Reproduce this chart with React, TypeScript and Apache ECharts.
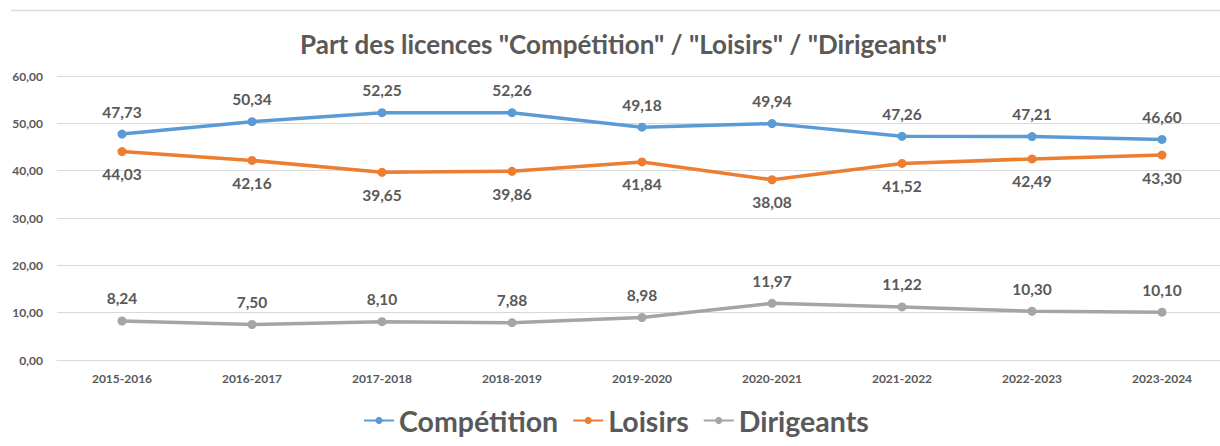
import React, { useEffect, useRef } from "react";
import * as echarts from "echarts";

const categories = ["2015-2016", "2016-2017", "2017-2018", "2018-2019", "2019-2020", "2020-2021", "2021-2022", "2022-2023", "2023-2024"];
const competition = [47.73, 50.34, 52.25, 52.26, 49.18, 49.94, 47.26, 47.21, 46.6];
const loisirs = [44.03, 42.16, 39.65, 39.86, 41.84, 38.08, 41.52, 42.49, 43.3];
const dirigeants = [8.24, 7.5, 8.1, 7.88, 8.98, 11.97, 11.22, 10.3, 10.1];
const seriesNames = ["Compétition", "Loisirs", "Dirigeants"];
const colors = ["#5B9BD5", "#ED7D31", "#A5A5A5"];

const fmt = (v: number) => v.toFixed(2).replace(".", ",");
const FONT = "Lato";
const TXT = "#595959";

export default function App() {
  const ref = useRef<HTMLDivElement>(null);
  useEffect(() => {
    const chart = echarts.init(ref.current!, undefined, { renderer: "svg" });
    const mk = (name: string, data: number[], color: string, pos: string) => ({
      name,
      type: "line",
      data,
      symbol: "circle",
      symbolSize: 9,
      lineStyle: { width: 3.5, color },
      itemStyle: { color },
      label: {
        show: true,
        position: pos,
        distance: 10,
        formatter: (p: any) => fmt(p.value),
        color: TXT,
        fontFamily: FONT,
        fontWeight: "bold",
        fontSize: 15.5,
      },
    });
    chart.setOption({
      animation: false,
      backgroundColor: "#ffffff",
      color: colors,
      title: {
        text: 'Part des licences "Compétition" / "Loisirs" / "Dirigeants"',
        left: 295,
        top: 26,
        textStyle: { color: TXT, fontFamily: FONT, fontWeight: "bold", fontSize: 26 },
      },
      legend: {
        data: seriesNames,
        left: 358,
        top: 401,
        itemWidth: 30,
        itemHeight: 9,
        itemGap: 14,
        textStyle: { color: TXT, fontFamily: FONT, fontWeight: "bold", fontSize: 28.5 },
      },
      grid: { left: 57, width: 1170, top: 76, height: 284, outerBoundsMode: "none", containLabel: false },
      xAxis: {
        type: "category",
        data: categories,
        boundaryGap: true,
        axisLine: { show: true, lineStyle: { color: "#D9D9D9", width: 1 } },
        axisTick: { show: false },
        axisLabel: { color: TXT, fontFamily: FONT, fontWeight: "bold", fontSize: 12, margin: 12 },
      },
      yAxis: {
        type: "value",
        min: 0,
        max: 60,
        interval: 10,
        axisLine: { show: false },
        axisTick: { show: false },
        axisLabel: { color: TXT, fontFamily: FONT, fontWeight: "bold", fontSize: 12, margin: 14, formatter: (v: number) => fmt(v) },
        splitLine: { lineStyle: { color: "#D9D9D9", width: 1 } },
      },
      graphic: [
        { type: "line", shape: { x1: 11, y1: 10.5, x2: 1220, y2: 10.5 }, style: { stroke: "#D9D9D9", lineWidth: 1.5 } },
      ],
      series: [
        mk(seriesNames[0], competition, colors[0], "top"),
        mk(seriesNames[1], loisirs, colors[1], "bottom"),
        mk(seriesNames[2], dirigeants, colors[2], "top"),
      ],
    });
    return () => chart.dispose();
  }, []);
  return <div ref={ref} style={{ position: "absolute", left: 0, top: 0, width: 1220, height: 446 }} />;
}
